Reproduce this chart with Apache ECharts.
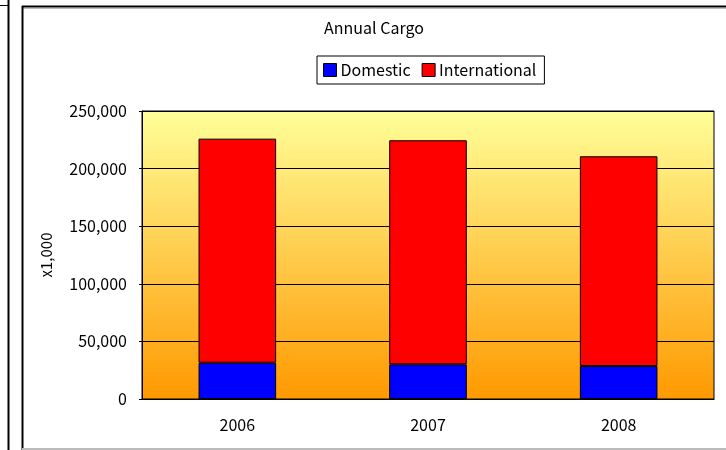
<!DOCTYPE html>
<html>
<head>
<meta charset="utf-8">
<script src="https://cdn.jsdelivr.net/npm/echarts@6/dist/echarts.min.js"></script>
<style>
html,body{margin:0;padding:0;background:#fff;}
#canvas{width:726px;height:450px;}
</style>
</head>
<body>
<div id="canvas"></div>
<script>
// 数据
var years = ['2006', '2007', '2008'];
var domestic = [31500, 30100, 28600];
var international = [194500, 194500, 182100];
var yTicks = [0, 50000, 100000, 150000, 200000, 250000];

var font = 'Noto Sans CJK JP';

var myChart = echarts.init(document.getElementById('canvas'));
option = {
    animation: false,
    backgroundColor: '#fff',
    textStyle: { fontFamily: font },
    title: {
        text: 'Annual Cargo',
        left: 374,
        top: 20,
        textAlign: 'center',
        padding: 0,
        textStyle: {
            color: '#000',
            fontWeight: 'normal',
            fontFamily: font,
            fontSize: 16
        }
    },
    legend: {
        data: ['Domestic', 'International'],
        left: 317,
        top: 56,
        padding: [6, 8, 6, 6],
        itemGap: 11,
        itemWidth: 13,
        itemHeight: 13,
        borderColor: '#000',
        borderWidth: 1,
        backgroundColor: '#fff',
        icon: 'rect',
        itemStyle: { borderColor: '#000', borderWidth: 1 },
        textStyle: { color: '#000', fontSize: 16, fontFamily: font, padding: [0, 0, 0, -1] }
    },
    grid: {
        left: 142,
        right: 12,
        top: 111,
        bottom: 51,
        show: true,
        borderColor: '#000',
        borderWidth: 1,
        backgroundColor: {
            type: 'linear', x: 0, y: 0, x2: 0, y2: 1,
            colorStops: [
                { offset: 0, color: '#FFFF99' },
                { offset: 1, color: '#FF9900' }
            ]
        }
    },
    xAxis: {
        type: 'category',
        data: years,
        axisLine: { lineStyle: { color: '#000', width: 1 } },
        axisTick: { inside: true, length: 5, lineStyle: { color: '#000' } },
        axisLabel: { color: '#000', fontSize: 16, margin: 18, fontFamily: font },
        splitLine: { show: false }
    },
    yAxis: {
        type: 'value',
        min: yTicks[0],
        max: yTicks[yTicks.length - 1],
        interval: yTicks[1] - yTicks[0],
        name: 'x1,000',
        nameLocation: 'middle',
        nameGap: 88,
        nameRotate: 90,
        nameTextStyle: { color: '#000', fontSize: 15, fontFamily: font },
        axisLine: { show: true, lineStyle: { color: '#000' } },
        axisTick: { show: true, length: 3, lineStyle: { color: '#000' } },
        axisLabel: {
            color: '#000',
            fontSize: 16,
            margin: 15,
            fontFamily: font,
            formatter: function (v) { return v.toLocaleString('en-US'); }
        },
        splitLine: { show: true, lineStyle: { color: '#000', width: 1 } }
    },
    series: [
        {
            name: 'Domestic',
            type: 'bar',
            stack: 'total',
            data: domestic,
            barWidth: '40.7%',
            itemStyle: { color: '#0000FF', borderColor: '#000', borderWidth: 1 }
        },
        {
            name: 'International',
            type: 'bar',
            stack: 'total',
            data: international,
            barWidth: '40.7%',
            itemStyle: { color: '#FF0000', borderColor: '#000', borderWidth: 1 }
        }
    ],
    graphic: [
        // 左侧另一个框的边
        { type: 'line', shape: { x1: 8.5, y1: 0, x2: 8.5, y2: 450 }, style: { stroke: '#000', lineWidth: 2 } },
        { type: 'line', shape: { x1: 0, y1: 5.5, x2: 9, y2: 5.5 }, style: { stroke: '#000', lineWidth: 1 } },
        // 图表外框
        { type: 'line', shape: { x1: 22, y1: 6.5, x2: 726, y2: 6.5 }, style: { stroke: '#000', lineWidth: 2 } },
        { type: 'line', shape: { x1: 23, y1: 8.5, x2: 726, y2: 8.5 }, style: { stroke: '#bbb', lineWidth: 1 } },
        { type: 'line', shape: { x1: 22.5, y1: 6, x2: 22.5, y2: 450 }, style: { stroke: '#000', lineWidth: 2 } },
        { type: 'line', shape: { x1: 22, y1: 449, x2: 726, y2: 449 }, style: { stroke: '#bbb', lineWidth: 2 } }
    ]
};
myChart.setOption(option);
</script>
</body>
</html>
